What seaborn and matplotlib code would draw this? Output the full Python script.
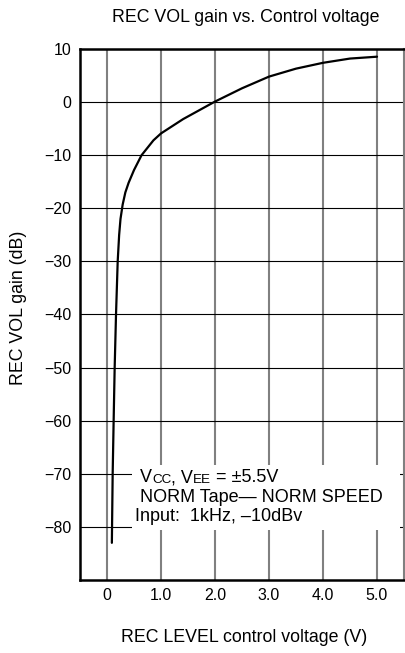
import matplotlib
matplotlib.use("Agg")
import matplotlib.pyplot as plt
import seaborn as sns
import pandas as pd
from matplotlib.patches import Rectangle

# ---- data ----
control_voltage = [0.09, 0.105, 0.123, 0.142, 0.167, 0.198, 0.225, 0.25, 0.29, 0.34, 0.40,
                   0.50, 0.64, 0.86, 1.0, 1.41, 2.0, 2.5, 3.0, 3.5, 4.0, 4.5, 5.0]
gain_db = [-83, -70, -60, -50, -40, -30, -25, -22, -19.3, -17, -15.2,
           -12.8, -10, -7.2, -5.9, -3.2, 0.1, 2.6, 4.8, 6.3, 7.4, 8.2, 8.55]
x_ticks = [0, 1, 2, 3, 4, 5]
x_tick_labels = ["0", "1.0", "2.0", "3.0", "4.0", "5.0"]
y_ticks = [10, 0, -10, -20, -30, -40, -50, -60, -70, -80]

title = "REC VOL gain vs. Control voltage"
x_label = "REC LEVEL control voltage (V)"
y_label = "REC VOL gain (dB)"

df = pd.DataFrame({"v": control_voltage, "db": gain_db})

sns.set_style("white")
plt.rcParams["font.family"] = ["Liberation Sans", "DejaVu Sans"]
plt.rcParams.update({"text.color": "black", "axes.labelcolor": "black",
                     "xtick.color": "black", "ytick.color": "black"})

fig = plt.figure(figsize=(4.05, 6.53), dpi=100)
ax = fig.add_axes([80/405, 1 - 580/653, 324/405, 531/653])

sns.lineplot(data=df, x="v", y="db", sort=False, color="black", linewidth=1.6, ax=ax, zorder=5)

ax.set_xlim(-0.5, 5.5)
ax.set_ylim(-90, 10)
ax.set_xticks(x_ticks)
ax.set_xticklabels(x_tick_labels)
ax.set_yticks(y_ticks)
ax.tick_params(axis="both", length=0, labelsize=11.5, colors="black")
ax.tick_params(axis="y", pad=6)
ax.tick_params(axis="x", pad=6)

ax.xaxis.grid(True, color="#808080", linewidth=1.5)
ax.yaxis.grid(True, color="black", linewidth=0.8)
ax.set_axisbelow(True)

for side in ["top", "left", "bottom"]:
    ax.spines[side].set_color("black")
    ax.spines[side].set_linewidth(1.8)
ax.spines["right"].set_color("#808080")
ax.spines["right"].set_linewidth(1.5)

ax.set_xlabel(x_label, fontsize=12.8, va="baseline", color="black")
ax.xaxis.set_label_coords(0.506, (580 - 641.7) / 531)
ax.set_ylabel(y_label, fontsize=12.8, va="center", color="black")
ax.yaxis.set_label_coords(-0.191, 0.513)

fig.text(246/405, 1 - 22/653, title, fontsize=12.8, ha="center", va="baseline", color="black")

# annotation box
ax.add_patch(Rectangle((0.16, 0.094), 0.828, 0.1226, transform=ax.transAxes,
                       facecolor="white", edgecolor="none", zorder=3))
fs_big, fs_small = 13.0, 9.7
t = ax.text(0.185, 0.184, "V", transform=ax.transAxes, fontsize=fs_big,
            va="baseline", ha="left", zorder=6, color="black")
pieces = [("CC", fs_small), (", V", fs_big), ("EE", fs_small), (" = ±5.5V", fs_big)]
prev = t
for s, fs in pieces:
    prev = ax.annotate(s, xy=(1, 0), xycoords=prev, fontsize=fs, va="bottom",
                       ha="left", zorder=6, color="black")
ax.text(0.185, 0.156, "NORM Tape— NORM SPEED", transform=ax.transAxes,
        fontsize=fs_big, va="center", ha="left", zorder=6, color="black")
ax.text(0.170, 0.119, "Input:  1kHz, –10dBv", transform=ax.transAxes,
        fontsize=fs_big, va="center", ha="left", zorder=6, color="black")

fig.savefig("out.png", dpi=100)
